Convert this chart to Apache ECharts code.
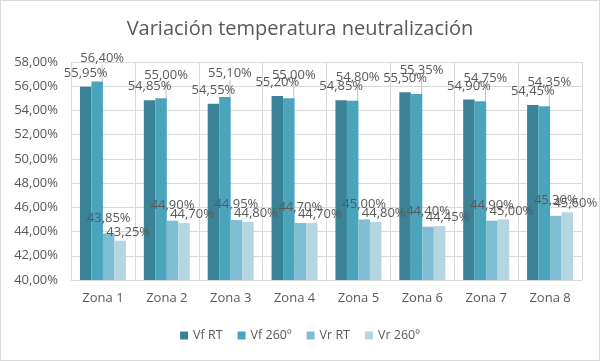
<!DOCTYPE html>
<html>
<head>
<meta charset="utf-8">
<script src="https://cdn.jsdelivr.net/npm/echarts@6/dist/echarts.min.js"></script>
<style>
html,body{margin:0;padding:0;background:#fff;}
#c{width:598px;height:359px;border:1px solid #d9d9d9;}
</style>
</head>
<body>
<div id="c"></div>
<script>
const categories = ['Zona 1','Zona 2','Zona 3','Zona 4','Zona 5','Zona 6','Zona 7','Zona 8'];
const seriesNames = ['Vf RT','Vf 260º','Vr RT','Vr 260º'];
const vfRT  = [55.95, 54.85, 54.55, 55.20, 54.85, 55.50, 54.90, 54.45];
const vf260 = [56.40, 55.00, 55.10, 55.00, 54.80, 55.35, 54.75, 54.35];
const vrRT  = [43.85, 44.90, 44.95, 44.70, 45.00, 44.40, 44.90, 45.30];
const vr260 = [43.25, 44.70, 44.80, 44.70, 44.80, 44.45, 45.00, 45.60];
const yTicks = {min: 40, max: 58, interval: 2};

const colors = ['#3A8397','#4AA5BC','#7FBDD2','#B5D6E0'];
const font = '"Open Sans", "Noto Sans", sans-serif';
const fmt = v => v.toFixed(2).replace('.', ',') + '%';

function mk(name, data, color, labelExtra) {
  return Object.assign({
    name: name, type: 'bar', data: data, barGap: 0, barCategoryGap: '28%',
    itemStyle: {color: color},
    label: Object.assign({
      show: true, position: 'top', distance: 3,
      formatter: p => fmt(p.value),
      color: '#595959', fontSize: 13, fontFamily: font
    }, labelExtra.label || {}),
  }, labelExtra.rest || {});
}

const chart = echarts.init(document.getElementById('c'), null, {renderer: 'canvas'});
chart.setOption({
  animation: false,
  backgroundColor: '#fff',
  color: colors,
  title: {
    text: 'Variación temperatura neutralización', left: 'center', top: 13,
    textStyle: {fontFamily: font, fontSize: 20, fontWeight: 'normal', color: '#595959'}
  },
  legend: {
    bottom: 13, left: 'center', itemWidth: 8, itemHeight: 8, itemGap: 15,
    icon: 'rect',
    textStyle: {fontFamily: font, fontSize: 12.5, color: '#595959'},
    data: seriesNames
  },
  grid: {left: 70, right: 17, top: 61, bottom: 80},
  xAxis: {
    type: 'category', data: categories,
    axisLine: {lineStyle: {color: '#d9d9d9'}},
    axisTick: {show: false},
    splitLine: {show: true, lineStyle: {color: '#d9d9d9'}},
    axisLabel: {color: '#595959', fontSize: 13, fontFamily: font, margin: 12}
  },
  yAxis: {
    type: 'value', min: yTicks.min, max: yTicks.max, interval: yTicks.interval,
    axisLine: {show: false}, axisTick: {show: false},
    splitLine: {lineStyle: {color: '#d9d9d9'}},
    axisLabel: {color: '#595959', fontSize: 13, fontFamily: font, margin: 13,
      formatter: v => v.toFixed(2).replace('.', ',') + '%'}
  },
  series: [
    mk(seriesNames[0], vfRT, colors[0], {label: {offset: [0, -4]}}),
    mk(seriesNames[1], vf260, colors[1], {
      label: {},
      rest: {
        labelLayout: {dx: 5, dy: -14},
        labelLine: {show: true, lineStyle: {color: '#bfbfbf', width: 1}}
      }
    }),
    mk(seriesNames[2], vrRT, colors[2], {label: {offset: [0, -6]}}),
    mk(seriesNames[3], vr260, colors[3], {label: {offset: [8, 1]}})
  ]
});
</script>
</body>
</html>
